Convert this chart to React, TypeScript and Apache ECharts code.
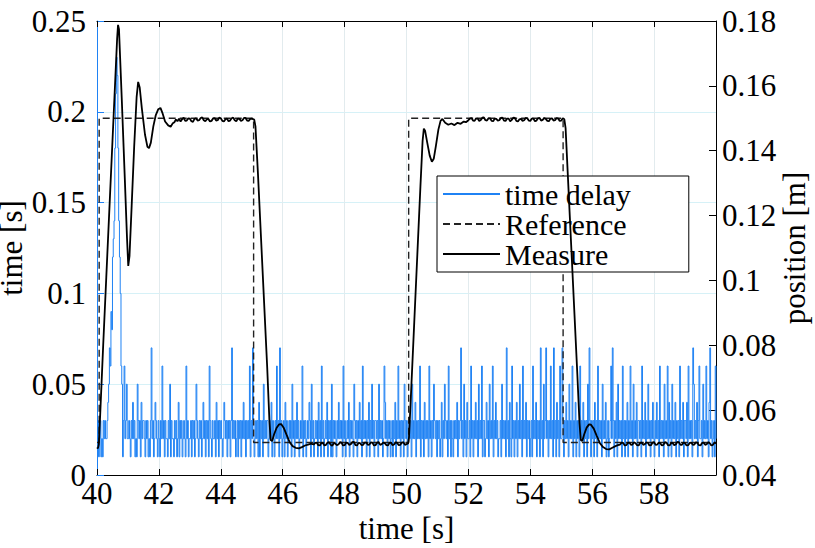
import React, { useEffect, useRef } from "react";
import * as echarts from "echarts";

const FONT = "'Liberation Serif', 'Times New Roman', serif";
const BLUE = "#1f82f4";

// time delay [s], sampled every 0.025 s from t = 40.000 to 40.975
const delayStartValues = [
  0.02, 0.03, 0.01, 0.02, 0.03, 0.01, 0.02, 0.01, 0.03, 0.02,
  0.03, 0.02, 0.02, 0.03, 0.04, 0.05, 0.07, 0.06, 0.09, 0.08,
  0.12, 0.13, 0.14, 0.18, 0.21, 0.23, 0.22, 0.18, 0.14, 0.12,
  0.1, 0.06, 0.05, 0.01, 0.03, 0.06, 0.02, 0.03, 0.05, 0.02,
];
// time delay in hundredths of a second, one digit per 0.025 s from t = 41.000 to 60.000
const delayDigitRows = [
  "23213242312153231423", // 41.0
  "32132312137231243213", // 41.5
  "21326231322132513221", // 42.0
  "32312413231232162312", // 42.5
  "23132312532132312423", // 43.0
  "13231632132231423132", // 43.5
  "32124323132313723231", // 44.0
  "23132313242313232613", // 44.5
  "27312323141323152323", // 45.0
  "31232413213262317231", // 45.5
  "23142312323152313242", // 46.0
  "31232613231232431523", // 46.5
  "12323142316231232413", // 47.0
  "23151323213242323162", // 47.5
  "31232413232153231324", // 48.0
  "23162323132413252313", // 48.5
  "32315232312642313231", // 49.0
  "23132413262313231532", // 49.5
  "31232315232413232613", // 50.0
  "23142323162313253231", // 50.5
  "32312413253231623132", // 51.0
  "13232413237231523142", // 51.5
  "23162313242315232613", // 52.0
  "31242315232613242312", // 52.5
  "23152323172314216231", // 53.0
  "32413252316232413231", // 53.5
  "23162324132317231523", // 54.0
  "72313262317231423162", // 54.5
  "27313242315232613241", // 55.0
  "32316232413231527313", // 55.5
  "23142316232315232412", // 56.0
  "31236273132415232316", // 56.5
  "23132413262315232413", // 57.0
  "32316232413252313242", // 57.5
  "13242316232315232614", // 58.0
  "23152324132316232413", // 58.5
  "32416232317523241362", // 59.0
  "23152326231472312316", // 59.5
  "2", // 60.0
];

// reference position [m]
const referenceData = [
  [40.0, 0.05], [40.07, 0.05], [40.07, 0.15], [45.06, 0.15], [45.06, 0.05],
  [50.07, 0.05], [50.07, 0.15], [55.06, 0.15], [55.06, 0.05], [60.0, 0.05],
];

// measured position [m]
const measureRise1 = [
  [40.0, 0.0485], [40.03, 0.0482], [40.06, 0.0495], [40.1, 0.058], [40.2, 0.08],
  [40.3, 0.101], [40.4, 0.122], [40.5, 0.143], [40.6, 0.164], [40.65, 0.1745],
  [40.68, 0.1788], [40.71, 0.1775], [40.8, 0.156], [40.9, 0.131], [40.97, 0.113],
  [41.01, 0.1045], [41.05, 0.1075], [41.12, 0.123], [41.2, 0.141], [41.28, 0.1565],
  [41.33, 0.1612], [41.38, 0.1595], [41.45, 0.153], [41.55, 0.145], [41.63, 0.1412],
  [41.68, 0.1408], [41.74, 0.1425], [41.82, 0.1475], [41.9, 0.151], [41.98, 0.1528],
  [42.05, 0.1532], [42.12, 0.1515], [42.2, 0.149], [42.3, 0.1478], [42.38, 0.1474],
  [42.45, 0.1485],
];
const measureHigh1 = [
  [42.5, 0.1488], [42.55, 0.1496], [42.6, 0.1491], [42.65, 0.1499], [42.7, 0.149],
  [42.75, 0.1497], [42.8, 0.1502], [42.85, 0.1492], [42.9, 0.1493], [42.95, 0.15],
  [43.0, 0.1499], [43.05, 0.1491], [43.1, 0.1489], [43.15, 0.1498], [43.2, 0.15],
  [43.25, 0.1493], [43.3, 0.1494], [43.35, 0.1501], [43.4, 0.1503], [43.45, 0.1494],
  [43.5, 0.1491], [43.55, 0.1497], [43.6, 0.1498], [43.65, 0.149], [43.7, 0.1492],
  [43.75, 0.1499], [43.8, 0.1501], [43.85, 0.1493], [43.9, 0.1494], [43.95, 0.1502],
  [44.0, 0.15], [44.05, 0.1492], [44.1, 0.149], [44.15, 0.1497], [44.2, 0.1499],
  [44.25, 0.1491], [44.3, 0.1493], [44.35, 0.15], [44.4, 0.1502], [44.45, 0.1494],
  [44.5, 0.1491], [44.55, 0.1499], [44.6, 0.1498], [44.65, 0.1492], [44.7, 0.1494],
  [44.75, 0.1501], [44.8, 0.1501], [44.85, 0.1493], [44.9, 0.1492], [44.95, 0.1498],
  [45.0, 0.1499], [45.08, 0.1496],
];
const measureFall1 = [
  [45.12, 0.1475], [45.2, 0.133], [45.3, 0.113], [45.4, 0.093], [45.5, 0.073],
  [45.57, 0.057], [45.61, 0.0508], [45.66, 0.0505], [45.72, 0.0525], [45.8, 0.0545],
  [45.88, 0.0556], [45.95, 0.0557], [46.03, 0.0546], [46.12, 0.0525], [46.22, 0.0502],
  [46.32, 0.0489], [46.42, 0.0484], [46.52, 0.0482], [46.62, 0.0486], [46.72, 0.0491],
  [46.82, 0.0494], [46.92, 0.0497],
];
const measureLow1 = [
  [47.0, 0.0494], [47.05, 0.0499], [47.1, 0.05], [47.15, 0.0492], [47.2, 0.0491],
  [47.25, 0.0499], [47.3, 0.0498], [47.35, 0.0491], [47.4, 0.0493], [47.45, 0.05],
  [47.5, 0.0501], [47.55, 0.0493], [47.6, 0.049], [47.65, 0.0498], [47.7, 0.0497],
  [47.75, 0.0492], [47.8, 0.0494], [47.85, 0.0501], [47.9, 0.05], [47.95, 0.0491],
  [48.0, 0.0492], [48.05, 0.05], [48.1, 0.0499], [48.15, 0.0493], [48.2, 0.0495],
  [48.25, 0.0501], [48.3, 0.0502], [48.35, 0.0492], [48.4, 0.0491], [48.45, 0.0499],
  [48.5, 0.0498], [48.55, 0.0492], [48.6, 0.0493], [48.65, 0.05], [48.7, 0.05],
  [48.75, 0.0493], [48.8, 0.0494], [48.85, 0.0501], [48.9, 0.0499], [48.95, 0.0491],
  [49.0, 0.0492], [49.05, 0.05], [49.1, 0.0501], [49.15, 0.0493], [49.2, 0.0495],
  [49.25, 0.05], [49.3, 0.0498], [49.35, 0.0492], [49.4, 0.0491], [49.45, 0.0499],
  [49.5, 0.05], [49.55, 0.0492], [49.6, 0.0494], [49.65, 0.0501], [49.7, 0.0499],
  [49.75, 0.0492], [49.8, 0.0493], [49.85, 0.05], [49.9, 0.0501], [49.95, 0.0493],
  [50.0, 0.0495], [50.05, 0.0497],
];
const measureRise2 = [
  [50.08, 0.0515], [50.15, 0.066], [50.25, 0.087], [50.35, 0.108], [50.45, 0.129],
  [50.52, 0.143], [50.56, 0.1468], [50.6, 0.1462], [50.67, 0.1425], [50.75, 0.1385],
  [50.82, 0.1366], [50.88, 0.1375], [50.95, 0.1415], [51.03, 0.1465], [51.1, 0.1492],
  [51.16, 0.1498], [51.25, 0.1486], [51.35, 0.148], [51.45, 0.1484], [51.55, 0.1479],
  [51.65, 0.1486], [51.75, 0.1483], [51.85, 0.149], [51.92, 0.1488],
];
const measureHigh2 = [
  [52.0, 0.1494], [52.05, 0.1499], [52.1, 0.1501], [52.15, 0.1493], [52.2, 0.1492],
  [52.25, 0.15], [52.3, 0.1499], [52.35, 0.1492], [52.4, 0.1495], [52.45, 0.1502],
  [52.5, 0.1503], [52.55, 0.1494], [52.6, 0.1493], [52.65, 0.15], [52.7, 0.15],
  [52.75, 0.1492], [52.8, 0.1491], [52.85, 0.1499], [52.9, 0.1498], [52.95, 0.1493],
  [53.0, 0.1494], [53.05, 0.1501], [53.1, 0.1502], [53.15, 0.1493], [53.2, 0.1492],
  [53.25, 0.1499], [53.3, 0.1499], [53.35, 0.1491], [53.4, 0.1495], [53.45, 0.1502],
  [53.5, 0.1501], [53.55, 0.1492], [53.6, 0.149], [53.65, 0.1497], [53.7, 0.1498],
  [53.75, 0.1492], [53.8, 0.1494], [53.85, 0.1501], [53.9, 0.15], [53.95, 0.1493],
  [54.0, 0.1492], [54.05, 0.1499], [54.1, 0.1499], [54.15, 0.1491], [54.2, 0.1493],
  [54.25, 0.15], [54.3, 0.1501], [54.35, 0.1493], [54.4, 0.1495], [54.45, 0.1501],
  [54.5, 0.1498], [54.55, 0.1492], [54.6, 0.1491], [54.65, 0.1499], [54.7, 0.15],
  [54.75, 0.1493], [54.8, 0.1494], [54.85, 0.1501], [54.9, 0.1499], [54.95, 0.1492],
  [55.0, 0.1493], [55.05, 0.15], [55.1, 0.1497],
];
const measureFall2 = [
  [55.14, 0.147], [55.22, 0.131], [55.32, 0.111], [55.42, 0.091], [55.52, 0.071],
  [55.59, 0.056], [55.63, 0.0508], [55.68, 0.0505], [55.74, 0.0525], [55.82, 0.0546],
  [55.9, 0.0556], [55.96, 0.0555], [56.05, 0.0543], [56.15, 0.052], [56.25, 0.0498],
  [56.35, 0.0486], [56.45, 0.048], [56.55, 0.0479], [56.65, 0.0484], [56.75, 0.0489],
  [56.83, 0.0492],
];
const measureLow2 = [
  [56.9, 0.0494], [56.95, 0.05], [57.0, 0.0499], [57.05, 0.0491], [57.1, 0.0492],
  [57.15, 0.0499], [57.2, 0.05], [57.25, 0.0493], [57.3, 0.0494], [57.35, 0.0501],
  [57.4, 0.0498], [57.45, 0.0492], [57.5, 0.0491], [57.55, 0.0499], [57.6, 0.05],
  [57.65, 0.0493], [57.7, 0.0495], [57.75, 0.0501], [57.8, 0.0499], [57.85, 0.0491],
  [57.9, 0.0492], [57.95, 0.05], [58.0, 0.0501], [58.05, 0.0493], [58.1, 0.0494],
  [58.15, 0.05], [58.2, 0.0498], [58.25, 0.0491], [58.3, 0.0493], [58.35, 0.0501],
  [58.4, 0.05], [58.45, 0.0492], [58.5, 0.0491], [58.55, 0.0498], [58.6, 0.0499],
  [58.65, 0.0492], [58.7, 0.0494], [58.75, 0.0502], [58.8, 0.0501], [58.85, 0.0493],
  [58.9, 0.0493], [58.95, 0.05], [59.0, 0.0498], [59.05, 0.0491], [59.1, 0.0492],
  [59.15, 0.0499], [59.2, 0.05], [59.25, 0.0493], [59.3, 0.0494], [59.35, 0.0501],
  [59.4, 0.0499], [59.45, 0.0492], [59.5, 0.0491], [59.55, 0.0499], [59.6, 0.05],
  [59.65, 0.0493], [59.7, 0.0495], [59.75, 0.0501], [59.8, 0.0498], [59.85, 0.0491],
  [59.9, 0.0493], [59.95, 0.05], [60.0, 0.0497],
];

const DELAY_START = 40;
const DELAY_STEP = 0.025;

export default function App() {
  const ref = useRef<HTMLDivElement>(null);

  useEffect(() => {
    document.body.style.margin = "0";
    if (!ref.current) return;
    const chart = echarts.init(ref.current, undefined, { renderer: "svg" });

    const delayValues = [
      ...delayStartValues,
      ...delayDigitRows.join("").split("").map((c) => Number(c) / 100),
    ];
    const delayData = delayValues.map((v, i) => [
      Math.round((DELAY_START + i * DELAY_STEP) * 1000) / 1000,
      v,
    ]);
    const measureData = [
      ...measureRise1,
      ...measureHigh1,
      ...measureFall1,
      ...measureLow1,
      ...measureRise2,
      ...measureHigh2,
      ...measureFall2,
      ...measureLow2,
    ];

    const labelStyle = { fontFamily: FONT, fontSize: 31, color: "#000" };

    chart.setOption({
      animation: false,
      grid: {
        left: 97,
        right: 99,
        top: 21,
        bottom: 73,
        containLabel: false,
        outerBoundsMode: "none",
      },
      legend: {
        data: ["time delay", "Reference", "Measure"],
        orient: "vertical",
        left: 437,
        top: 176,
        itemWidth: 57,
        itemHeight: 4,
        itemGap: 0,
        padding: [3, 58, 3, 5],
        borderColor: "#000",
        borderWidth: 1,
        borderRadius: 0,
        backgroundColor: "#fff",
        selectedMode: false,
        itemStyle: { opacity: 0 },
        textStyle: { fontFamily: FONT, fontSize: 30, color: "#000", lineHeight: 30 },
      },
      xAxis: [
        {
          type: "value",
          min: 40,
          max: 60,
          interval: 2,
          position: "bottom",
          name: "time [s]",
          nameLocation: "middle",
          nameGap: 38,
          nameMoveOverlap: false,
          nameTextStyle: labelStyle,
          axisLine: { lineStyle: { color: "#000", width: 1 } },
          axisTick: { inside: true, length: 6, lineStyle: { color: "#000" } },
          axisLabel: {
            ...labelStyle,
            margin: 3,
            formatter: (v: number) => (v >= 60 ? "" : String(v)),
          },
          splitLine: { show: true, lineStyle: { color: "#e2ebee", width: 1 } },
        },
        {
          type: "value",
          min: 40,
          max: 60,
          interval: 2,
          position: "top",
          axisLine: { lineStyle: { color: "#000", width: 1 } },
          axisTick: { inside: true, length: 6, lineStyle: { color: "#000" } },
          axisLabel: { show: false },
          splitLine: { show: false },
        },
      ],
      yAxis: [
        {
          type: "value",
          min: 0,
          max: 0.25,
          interval: 0.05,
          position: "left",
          name: "time [s]",
          nameLocation: "middle",
          nameGap: 70,
          nameMoveOverlap: false,
          nameTextStyle: labelStyle,
          axisLine: { show: true, lineStyle: { color: BLUE, width: 1 } },
          axisTick: { show: true, inside: true, length: 7, lineStyle: { color: BLUE } },
          axisLabel: { ...labelStyle, margin: 11 },
          splitLine: { show: true, lineStyle: { color: "#d6f1f7", width: 1 } },
        },
        {
          type: "value",
          min: 0.04,
          max: 0.18,
          interval: 0.02,
          position: "right",
          name: "position [m]",
          nameLocation: "middle",
          nameGap: 63,
          nameMoveOverlap: false,
          nameTextStyle: labelStyle,
          axisLine: { show: true, lineStyle: { color: "#000", width: 1 } },
          axisTick: { show: true, inside: true, length: 7, lineStyle: { color: "#000" } },
          axisLabel: { ...labelStyle, margin: 6 },
          splitLine: { show: false },
        },
      ],
      series: [
        {
          name: "time delay",
          type: "line",
          xAxisIndex: 0,
          yAxisIndex: 0,
          data: delayData,
          step: "end",
          symbol: "none",
          lineStyle: { color: BLUE, width: 1 },
          itemStyle: { color: BLUE },
          z: 2,
        },
        {
          name: "Reference",
          type: "line",
          xAxisIndex: 0,
          yAxisIndex: 1,
          data: referenceData,
          symbol: "none",
          lineStyle: { color: "#222", width: 1.4, type: [7, 4] },
          itemStyle: { color: "#222" },
          z: 3,
        },
        {
          name: "Measure",
          type: "line",
          xAxisIndex: 0,
          yAxisIndex: 1,
          data: measureData,
          symbol: "none",
          lineStyle: { color: "#000", width: 1.8 },
          itemStyle: { color: "#000" },
          z: 4,
        },
      ],
    });

    return () => chart.dispose();
  }, []);

  return <div ref={ref} style={{ width: 815, height: 548 }} />;
}
